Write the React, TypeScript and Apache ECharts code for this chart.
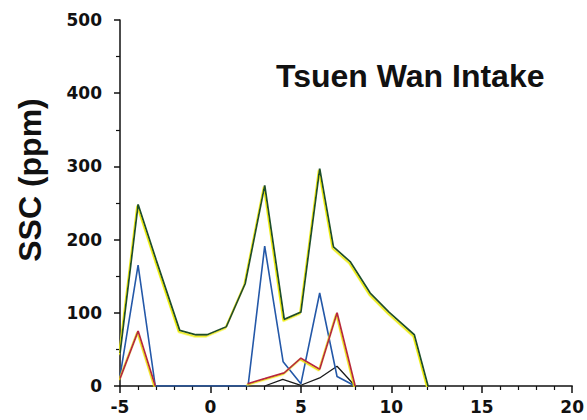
import React, { useEffect, useRef } from "react";
import * as echarts from "echarts";

const xTickLabels = ["-5", "0", "5", "10", "15", "20"];
const yTickLabels = ["0", "100", "200", "300", "400", "500"];

const greenX = [-5, -4, -3, -1.7, -0.8, -0.18, 0.88, 1.92, 3, 4.08, 5, 6.04, 6.8, 7.72, 8.83, 9.87, 11.27, 12.03];
const greenY = [45, 248, 172, 76, 70, 70, 81, 140, 274, 91, 101, 297, 190, 170, 127, 101, 70, 0];

const blueX = [-5, -4, -3.05, 2.08, 3, 4.02, 5, 6.04, 7, 8];
const blueY = [13, 165, 0, 0, 191, 33, 3, 127, 13, 0];

// null marks a break in the line (no trace drawn along the baseline)
const redX = [-5, -4, -3.05, null, 2.05, 3, 4.08, 5, 6.04, 7, 8];
const redY = [10, 75, 0, null, 3, 10, 18, 38, 23, 100, 0];

const blackX = [3, 4, 5, 6.04, 7, 8];
const blackY = [0, 9, 1, 11, 27, 0];

const pairs = (xs: (number | null)[], ys: (number | null)[]) =>
  xs.map((x, i) => (x === null || ys[i] === null ? "-" : [x, ys[i]]));

export default function App() {
  const ref = useRef<HTMLDivElement>(null);
  useEffect(() => {
    if (!ref.current) return;
    const chart = echarts.init(ref.current, undefined, { renderer: "svg" });
    const axisText = {
      fontFamily: "DejaVu Sans",
      fontWeight: "bold" as const,
      fontSize: 17,
      color: "#111",
    };
    chart.setOption({
      animation: false,
      backgroundColor: "#fff",
      grid: { left: 120, top: 20, right: 14, bottom: 34, containLabel: false },
      title: {
        text: "Tsuen Wan Intake",
        left: 271,
        top: 55,
        textStyle: {
          fontFamily: "Liberation Sans",
          fontWeight: "bold",
          fontSize: 32,
          color: "#111",
        },
      },
      graphic: [
        {
          type: "text",
          x: 30,
          y: 180,
          rotation: Math.PI / 2,
          style: {
            text: "SSC (ppm)",
            fontFamily: "Liberation Sans",
            fontWeight: "bold",
            fontSize: 32,
            fill: "#111",
            align: "center",
            verticalAlign: "middle",
          },
        },
      ],
      xAxis: {
        type: "value",
        min: -5,
        max: 20,
        interval: 5,
        axisLine: { onZero: false, lineStyle: { color: "#111", width: 1.5 } },
        axisTick: { show: true, length: 7, lineStyle: { color: "#111", width: 1.5 } },
        minorTick: { show: true, splitNumber: 5, length: 4, lineStyle: { color: "#111", width: 1.2 } },
        splitLine: { show: false },
        axisLabel: {
          ...axisText,
          margin: 12,
          formatter: (v: number) => {
            const s = String(v);
            return xTickLabels.includes(s) ? s : "";
          },
        },
      },
      yAxis: {
        type: "value",
        min: 0,
        max: 500,
        interval: 100,
        axisLine: { show: true, onZero: false, lineStyle: { color: "#111", width: 1.5 } },
        axisTick: { show: true, length: 6, lineStyle: { color: "#111", width: 1.5 } },
        minorTick: { show: true, splitNumber: 2, length: 4, lineStyle: { color: "#111", width: 1.2 } },
        splitLine: { show: false },
        axisLabel: {
          ...axisText,
          margin: 18,
          formatter: (v: number) => (yTickLabels.includes(String(v)) ? String(v) : ""),
        },
      },
      series: [
        {
          type: "line",
          name: "black",
          data: pairs(blackX, blackY),
          symbol: "none",
          lineStyle: { color: "#1a1a1a", width: 1.3 },
          z: 2,
        },
        {
          type: "line",
          name: "blue",
          data: pairs(blueX, blueY),
          symbol: "none",
          lineStyle: { color: "#2458a8", width: 1.6 },
          z: 3,
        },
        {
          type: "line",
          name: "red",
          data: pairs(redX, redY),
          symbol: "none",
          connectNulls: false,
          lineStyle: {
            color: "#b8263f",
            width: 1.8,
            shadowColor: "#f0e000",
            shadowOffsetX: -0.8,
            shadowOffsetY: 1.2,
            shadowBlur: 0,
          },
          z: 4,
        },
        {
          type: "line",
          name: "green",
          data: pairs(greenX, greenY),
          symbol: "none",
          lineStyle: {
            color: "#1f4f2a",
            width: 1.8,
            shadowColor: "#eeee10",
            shadowOffsetX: -1,
            shadowOffsetY: 1.5,
            shadowBlur: 0,
          },
          z: 5,
        },
      ],
    });
    return () => chart.dispose();
  }, []);
  return <div ref={ref} style={{ width: 587, height: 420, position: "absolute", left: 0, top: 0 }} />;
}
